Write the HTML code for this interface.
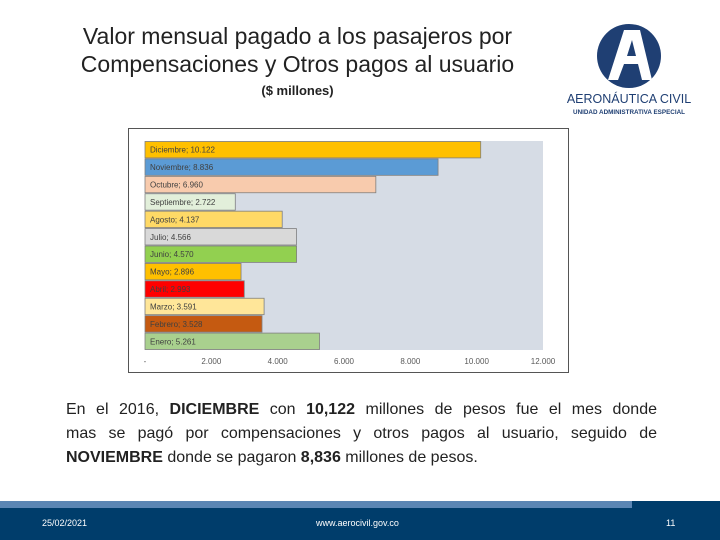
<!DOCTYPE html>
<html><head><meta charset="utf-8">
<style>
body{margin:0;width:720px;height:540px;position:relative;background:#fff;font-family:"Liberation Sans",sans-serif;overflow:hidden}
.t{position:absolute;left:0;width:595px;text-align:center;font-size:23px;color:#222;line-height:28px}
.ln{text-align:justify;text-align-last:justify;white-space:nowrap;height:24px}
</style></head><body>
<div class="t" style="top:22px">Valor mensual pagado a los pasajeros por<br>Compensaciones y Otros pagos al usuario</div>
<div style="position:absolute;left:0;width:595px;top:83px;text-align:center;font-size:13px;font-weight:bold;color:#222">($ millones)</div>
<div style="position:absolute;left:566px;top:24px;width:130px;height:95px">
<svg width="130" height="95" viewBox="0 0 130 95">
<circle cx="63" cy="32" r="32" fill="#1f3f73"/>
<path d="M58 6 L74 6 L86 56 L76 56 L72 40 L58 40 L52 56 L42 56 Z M61 32 L70 32 L66 16 Z" fill="#fff"/>
<text x="63" y="79" text-anchor="middle" font-family="Liberation Sans" font-size="12.5" fill="#1f3f73">AERONÁUTICA CIVIL</text>
<text x="63" y="90" text-anchor="middle" font-family="Liberation Sans" font-size="6.3" fill="#1f3f73" font-weight="bold">UNIDAD ADMINISTRATIVA ESPECIAL</text>
</svg></div>
<svg id="chart" style="position:absolute;left:0;top:0" width="720" height="400"></svg>
<div style="position:absolute;left:66px;top:398px;width:591px;font-size:16px;line-height:24px;color:#222;font-family:'Liberation Sans',sans-serif">
<div class="ln">En el 2016, <b>DICIEMBRE</b> con <b>10,122</b> millones de pesos fue el mes donde</div>
<div class="ln">mas se pagó por compensaciones y otros pagos al usuario, seguido de</div>
<div style="height:24px"><b>NOVIEMBRE</b> donde se pagaron <b>8,836</b> millones de pesos.</div>
</div>
<div style="position:absolute;left:0;top:501px;width:720px;height:39px;background:#003d6b">
<div style="position:absolute;left:0;top:0;width:632px;height:7px;background:#5b86b4"></div>
<span style="position:absolute;left:42px;top:17px;color:#fff;font-size:9px">25/02/2021</span>
<span style="position:absolute;left:316px;top:17px;color:#fff;font-size:9px">www.aerocivil.gov.co</span>
<span style="position:absolute;left:666px;top:17px;color:#fff;font-size:9px">11</span>
</div>
<script>
const months=["Diciembre","Noviembre","Octubre","Septiembre","Agosto","Julio","Junio","Mayo","Abril","Marzo","Febrero","Enero"];
const values=[10122,8836,6960,2722,4137,4566,4570,2896,2993,3591,3528,5261];
const labels=["10.122","8.836","6.960","2.722","4.137","4.566","4.570","2.896","2.993","3.591","3.528","5.261"];
const colors=["#ffc000","#5b9bd5","#f8cbad","#e2efda","#ffd966","#d9d9d9","#92d050","#ffc000","#ff0000","#ffe699","#c55a11","#a9d08e"];
const ticks=[0,2000,4000,6000,8000,10000,12000];
const tickLabels=["-","2.000","4.000","6.000","8.000","10.000","12.000"];
const NS="http://www.w3.org/2000/svg";
const svgEl=document.getElementById('chart');
const plotX0=145,plotX1=543,plotTop=141,plotBot=350,xMax=12000;
const xs=v=>plotX0+(plotX1-plotX0)*v/xMax;
const band=(plotBot-plotTop)/months.length;
function mk(t,a){const e=document.createElementNS(NS,t);for(const k in a)e.setAttribute(k,a[k]);svgEl.appendChild(e);return e;}
const f=mk('rect',{x:128.5,y:128.5,width:440,height:244,fill:'#fff',stroke:'#555'});


const pa=mk('rect',{x:plotX0,y:plotTop,width:plotX1-plotX0,height:plotBot-plotTop,fill:'#d6dce5'});


months.forEach((m,i)=>{
 const y=plotTop+i*band;
 const r=mk('rect',{x:plotX0,y:y+0.5,width:xs(values[i])-plotX0,height:band-1,fill:colors[i],stroke:'#7f7f7f','stroke-width':0.8});
 
 
 const t=mk('text',{x:plotX0+5,y:y+band/2+3,'font-size':8,fill:'#404040','font-family':'Liberation Sans'});
 t.textContent=m+"; "+labels[i];
 
 
});
ticks.forEach((v,i)=>{
 const t=mk('text',{x:xs(v),y:364,'font-size':8,fill:'#595959','text-anchor':'middle','font-family':'Liberation Sans'});
 t.textContent=tickLabels[i];
 
 
});
</script>
</body></html>
